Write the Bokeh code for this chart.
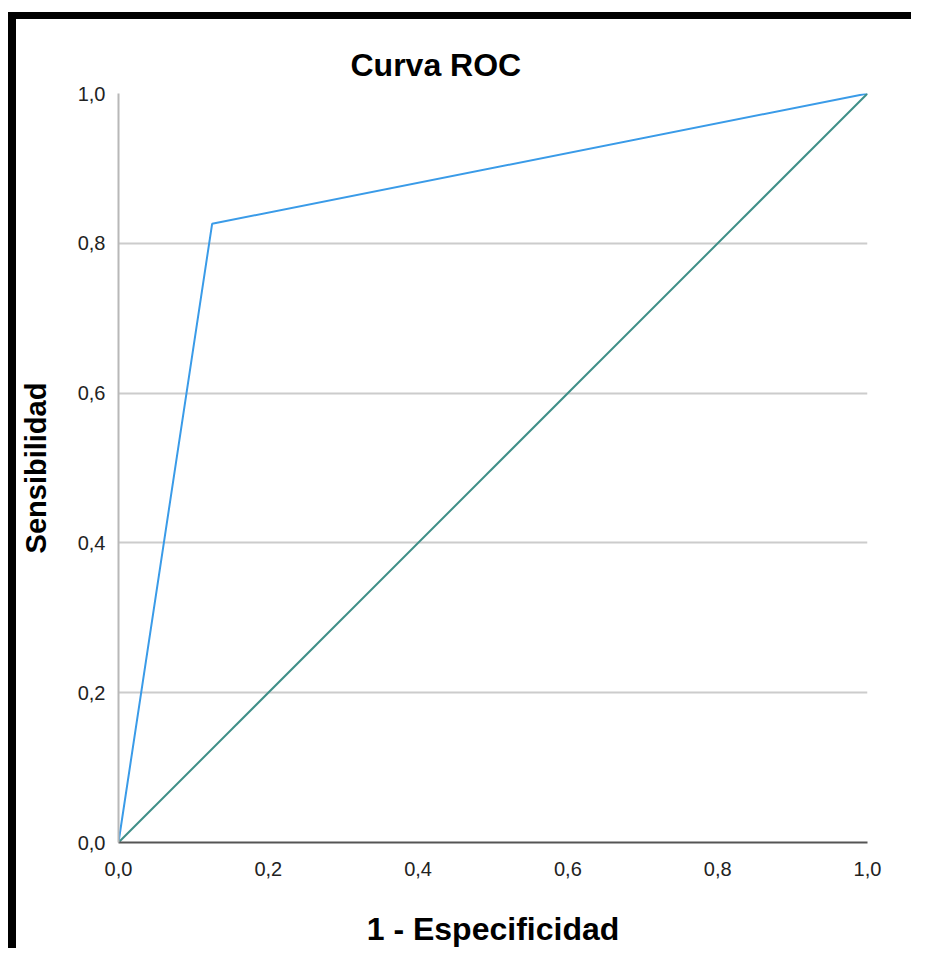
from bokeh.plotting import figure
from bokeh.models import FixedTicker, CustomJSTickFormatter, Range1d
from bokeh.embed import file_html
from bokeh.resources import INLINE

# ROC curve data (1 - specificity, sensitivity)
fpr = [0.0, 0.125, 1.0]
tpr = [0.0, 0.826, 1.0]
# reference diagonal
diag_x = [0.0, 1.0]
diag_y = [0.0, 1.0]
ticks = [0.0, 0.2, 0.4, 0.6, 0.8, 1.0]

FONT = "Liberation Sans"

p = figure(width=903, height=936, output_backend="svg", toolbar_location=None,
           x_range=Range1d(0, 1), y_range=Range1d(0, 1),
           min_border_left=90, min_border_right=52, min_border_top=74, min_border_bottom=113,
           title="Curva ROC")
p.styles = {"border-left": "8px solid black", "border-top": "7px solid black",
            "margin-top": "12px", "margin-left": "8px"}

p.title.text_font = FONT
p.title.text_font_size = "32px"
p.title.text_font_style = "bold"
p.title.text_color = "black"
p.title.align = "left"
p.title.offset = 232
p.title.standoff = 21

p.outline_line_color = None
p.background_fill_color = "white"
p.border_fill_color = "white"

p.line(fpr, tpr, line_color="#3a9be8", line_width=2)
p.line(diag_x, diag_y, line_color="#3f8f88", line_width=2)

fmt = CustomJSTickFormatter(code="return tick.toFixed(1).replace('.', ',');")
for ax in (p.xaxis[0], p.yaxis[0]):
    ax.ticker = FixedTicker(ticks=ticks)
    ax.formatter = fmt
    ax.major_tick_line_color = None
    ax.minor_tick_line_color = None
    ax.major_tick_out = 0
    ax.major_tick_in = 0
    ax.major_label_text_font = FONT
    ax.major_label_text_font_size = "20px"
    ax.major_label_text_color = "#222222"
    ax.axis_label_text_font = FONT
    ax.axis_label_text_font_style = "bold"
    ax.axis_label_text_color = "black"
    ax.axis_line_width = 2

p.xaxis.axis_label = "1 - Especificidad"
p.xaxis.axis_label_text_font_size = "32px"
p.xaxis.axis_line_color = "#555555"
p.xaxis.major_label_standoff = 19
p.xaxis.axis_label_standoff = 32

p.yaxis.axis_label = "Sensibilidad"
p.yaxis.axis_label_text_font_size = "29px"
p.yaxis.axis_line_color = "#b8b8b8"
p.yaxis.major_label_standoff = 13
p.yaxis.axis_label_standoff = 23

p.xgrid.grid_line_color = None
p.ygrid.grid_line_color = "#cccccc"
p.ygrid.grid_line_width = 2

open("out.html", "w").write(file_html(p, INLINE))
